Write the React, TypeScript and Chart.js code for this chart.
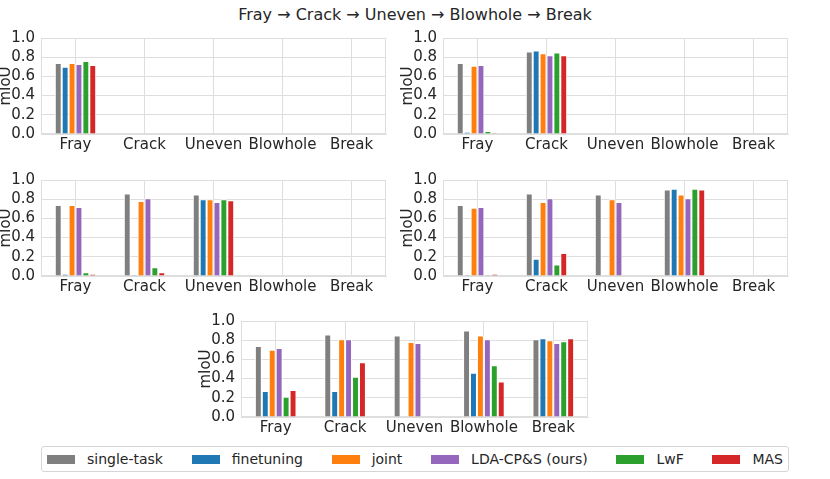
import { useEffect, useRef } from "react";
import { Chart, registerables, type Plugin } from "chart.js";

Chart.register(...registerables);
Chart.defaults.font.family = "'DejaVu Sans', sans-serif";
Chart.defaults.color = "#262626";

const categories = ["Fray", "Crack", "Uneven", "Blowhole", "Break"];
const methods = ["single-task", "finetuning", "joint", "LDA-CP&S (ours)", "LwF", "MAS"];
const colors = ["#7f7f7f", "#1f77b4", "#ff7f0e", "#9467bd", "#2ca02c", "#d62728"];
const yTicks = [0, 0.2, 0.4, 0.6, 0.8, 1.0];

// mIoU after each task; rows follow `methods`, columns follow `categories`
// null = class not learned yet
const afterFray = [
  [0.74, null, null, null, null],
  [0.7, null, null, null, null],
  [0.74, null, null, null, null],
  [0.73, null, null, null, null],
  [0.76, null, null, null, null],
  [0.72, null, null, null, null],
];
const afterCrack = [
  [0.74, 0.86, null, null, null],
  [0.02, 0.87, null, null, null],
  [0.71, 0.84, null, null, null],
  [0.72, 0.82, null, null, null],
  [0.03, 0.85, null, null, null],
  [0.01, 0.82, null, null, null],
];
const afterUneven = [
  [0.74, 0.86, 0.85, null, null],
  [0.02, 0.01, 0.8, null, null],
  [0.74, 0.78, 0.8, null, null],
  [0.72, 0.81, 0.77, null, null],
  [0.04, 0.09, 0.8, null, null],
  [0.02, 0.04, 0.79, null, null],
];
const afterBlowhole = [
  [0.74, 0.86, 0.85, 0.9, null],
  [0.01, 0.18, 0, 0.91, null],
  [0.71, 0.77, 0.8, 0.85, null],
  [0.72, 0.81, 0.77, 0.81, null],
  [0.01, 0.12, 0, 0.91, null],
  [0.02, 0.24, 0, 0.9, null],
];
const afterBreak = [
  [0.74, 0.86, 0.85, 0.9, 0.81],
  [0.27, 0.27, 0, 0.46, 0.82],
  [0.7, 0.81, 0.78, 0.85, 0.8],
  [0.72, 0.81, 0.77, 0.81, 0.77],
  [0.21, 0.42, 0, 0.54, 0.79],
  [0.28, 0.57, 0, 0.37, 0.82],
];

const GRID = "#dedede";
const TEXT = "#262626";
const FONT_SIZE = 15;
const Y_AXIS_W = 44;
const PAD_TOP = 10;
const PAD_RIGHT = 8;
const X_AXIS_H = 24;

// light box around the plot area (matplotlib spines)
const frame: Plugin<"bar"> = {
  id: "frame",
  beforeDatasetsDraw(chart) {
    const { ctx, chartArea: a } = chart;
    ctx.save();
    ctx.strokeStyle = GRID;
    ctx.lineWidth = 1;
    ctx.strokeRect(
      Math.round(a.left) + 0.5,
      Math.round(a.top) + 0.5,
      Math.round(a.width) - 1,
      Math.round(a.height) - 1,
    );
    ctx.restore();
  },
};

function Panel({
  values,
  left,
  top,
  width,
  height,
}: {
  values: (number | null)[][];
  left: number;
  top: number;
  width: number;
  height: number;
}) {
  const ref = useRef<HTMLCanvasElement>(null);

  useEffect(() => {
    if (!ref.current) return;
    const chart = new Chart(ref.current, {
      type: "bar",
      data: {
        labels: categories,
        datasets: methods.map((m, i) => ({
          label: m,
          data: values[i],
          backgroundColor: colors[i],
          borderColor: "#ffffff",
          borderWidth: 1,
          borderSkipped: "start",
          categoryPercentage: 0.6,
          barPercentage: 1,
        })),
      },
      options: {
        responsive: true,
        maintainAspectRatio: false,
        animation: false,
        layout: { padding: { top: PAD_TOP, right: PAD_RIGHT, left: 0, bottom: 0 } },
        plugins: { legend: { display: false }, tooltip: { enabled: false } },
        scales: {
          x: {
            offset: true,
            grid: { color: GRID, offset: false, drawTicks: false },
            border: { color: GRID },
            ticks: { color: TEXT, font: { size: FONT_SIZE }, padding: 2, maxRotation: 0, autoSkip: false },
            afterFit: (s) => {
              s.height = X_AXIS_H;
            },
          },
          y: {
            min: 0,
            max: 1,
            grid: { color: GRID, drawTicks: false },
            border: { color: GRID },
            afterBuildTicks: (s) => {
              s.ticks = yTicks.map((v) => ({ value: v }));
            },
            ticks: {
              color: TEXT,
              font: { size: FONT_SIZE },
              padding: 6,
              autoSkip: false,
              callback: (v) => Number(v).toFixed(1),
            },
            title: {
              display: true,
              text: "mIoU",
              color: TEXT,
              font: { size: FONT_SIZE, lineHeight: 1.2 },
              padding: 0,
            },
            afterFit: (s) => {
              s.width = Y_AXIS_W;
            },
          },
        },
      },
      plugins: [frame],
    });
    return () => chart.destroy();
  }, [values]);

  return (
    <div
      style={{
        position: "absolute",
        left: left - Y_AXIS_W,
        top: top - PAD_TOP,
        width: Y_AXIS_W + width + PAD_RIGHT,
        height: PAD_TOP + height + X_AXIS_H,
      }}
    >
      <canvas ref={ref} />
    </div>
  );
}

const panels = [
  { values: afterFray, left: 41, top: 33, width: 345 },
  { values: afterCrack, left: 443, top: 33, width: 345 },
  { values: afterUneven, left: 41, top: 175, width: 345 },
  { values: afterBlowhole, left: 443, top: 175, width: 345 },
  { values: afterBreak, left: 241, top: 316, width: 347 },
];

export default function App() {
  return (
    <div
      style={{
        position: "absolute",
        left: 0,
        top: 0,
        width: 830,
        height: 479,
        background: "#fff",
        overflow: "hidden",
        fontFamily: "'DejaVu Sans', sans-serif",
        color: TEXT,
      }}
    >
      <div
        style={{
          position: "absolute",
          left: 0,
          top: 6,
          width: 830,
          textAlign: "center",
          fontSize: 16,
          lineHeight: "18px",
          whiteSpace: "nowrap",
        }}
      >
        {categories.join(" → ")}
      </div>
      {panels.map((p, i) => (
        <Panel key={i} values={p.values} left={p.left} top={p.top} width={p.width} height={101} />
      ))}
      <div
        style={{
          position: "absolute",
          left: 41,
          top: 446,
          width: 748,
          height: 26,
          boxSizing: "border-box",
          border: "1px solid #d6d6d6",
          borderRadius: 3,
          display: "flex",
          alignItems: "center",
          justifyContent: "space-between",
          padding: "0 5px",
          fontSize: 14,
        }}
      >
        {methods.map((m, i) => (
          <div key={m} style={{ display: "flex", alignItems: "center", whiteSpace: "nowrap" }}>
            <span style={{ display: "inline-block", width: 28, height: 9, background: colors[i], marginRight: 12 }} />
            <span>{m}</span>
          </div>
        ))}
      </div>
    </div>
  );
}
